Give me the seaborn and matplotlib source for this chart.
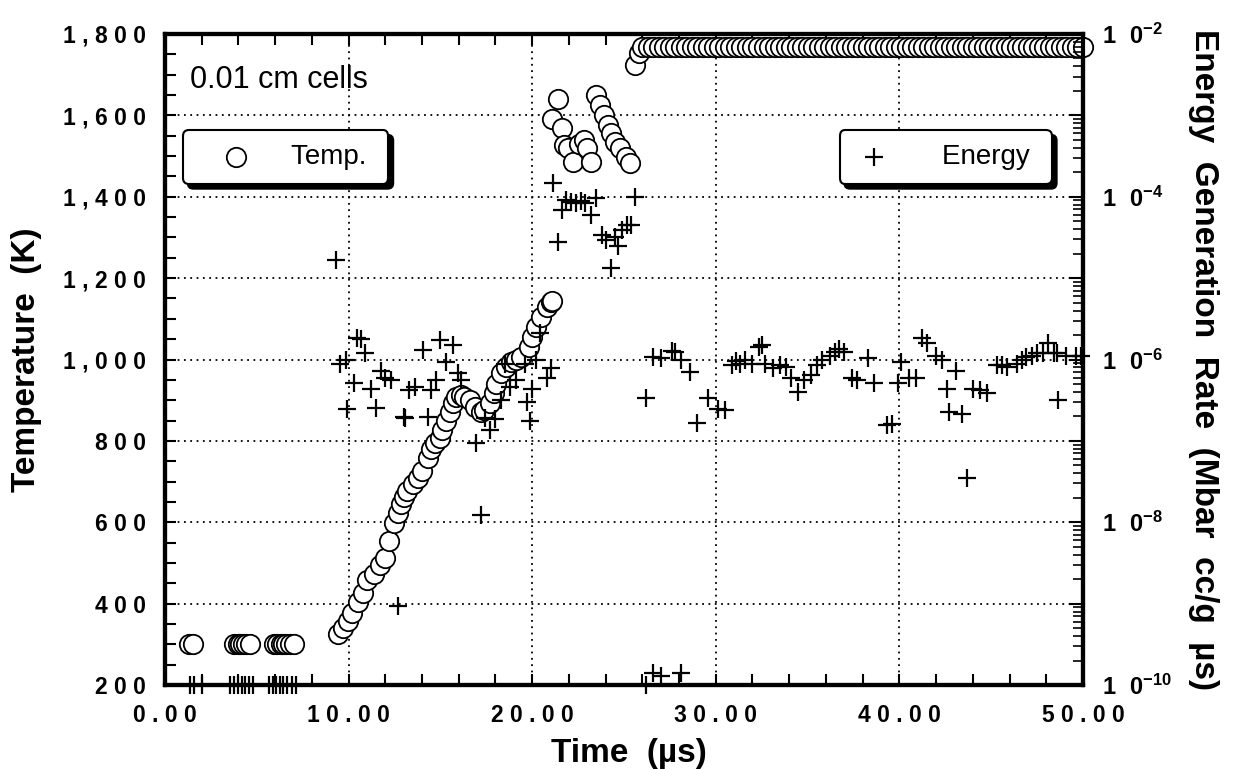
import numpy as np
import pandas as pd
import matplotlib
matplotlib.use("Agg")
import matplotlib.pyplot as plt
import seaborn as sns
from matplotlib.ticker import MultipleLocator, LogLocator, FuncFormatter, NullFormatter, FixedLocator

# ---------------- data ----------------
temp_time = [1.3, 1.5,
             3.75, 3.95, 4.1, 4.25, 4.4, 4.65,
             5.95, 6.1, 6.3, 6.45, 6.6, 6.8, 7.05,
             9.4, 9.7, 9.95, 10.2, 10.5, 10.8, 11.0, 11.4, 11.7, 12.0, 12.2, 12.5,
             12.7, 12.85, 13.0, 13.2, 13.5, 13.8, 14.0, 14.3, 14.5, 14.7, 15.0,
             15.1, 15.3, 15.5, 15.7, 15.85, 16.1, 16.3, 16.6, 16.9, 17.2, 17.4,
             17.7, 17.9, 18.05, 18.3, 18.6, 18.85, 19.1, 19.4, 19.8, 20.0, 20.2,
             20.5, 20.8, 21.0, 21.1,
             21.1, 21.4, 21.6, 21.75, 21.95, 22.2, 22.55, 22.8, 23.0, 23.2,
             23.5, 23.7, 23.9, 24.15, 24.3, 24.5, 24.8, 25.1, 25.35, 25.6, 25.8]
temp_vals = [300, 300,
             300, 300, 300, 300, 300, 300,
             300, 300, 300, 300, 300, 300, 300,
             326, 339, 358, 376, 403, 427, 457, 474, 494, 513, 555, 597,
             622, 646, 661, 678, 695, 710, 727, 759, 781, 794, 806,
             826, 850, 870, 892, 907, 912, 907, 900, 883, 870, 875,
             892, 917, 941, 966, 981, 993, 1000, 1005, 1030, 1055, 1079,
             1104, 1128, 1141, 1145,
             1592, 1640, 1570, 1527, 1519, 1485, 1530, 1539, 1519, 1485,
             1650, 1625, 1601, 1576, 1556, 1534, 1519, 1497, 1483, 1724, 1753]
plateau_time = [26.0, 26.3, 26.6, 26.9, 27.2, 27.5, 27.8, 28.1, 28.4, 28.7,
                29.0, 29.3, 29.6, 29.9, 30.2, 30.5, 30.8, 31.1, 31.4, 31.7,
                32.0, 32.3, 32.6, 32.9, 33.2, 33.5, 33.8, 34.1, 34.4, 34.7,
                35.0, 35.3, 35.6, 35.9, 36.2, 36.5, 36.8, 37.1, 37.4, 37.7,
                38.0, 38.3, 38.6, 38.9, 39.2, 39.5, 39.8, 40.1, 40.4, 40.7,
                41.0, 41.3, 41.6, 41.9, 42.2, 42.5, 42.8, 43.1, 43.4, 43.7,
                44.0, 44.3, 44.6, 44.9, 45.2, 45.5, 45.8, 46.1, 46.4, 46.7,
                47.0, 47.3, 47.6, 47.9, 48.2, 48.5, 48.8, 49.1, 49.4, 49.7, 50.0]
plateau_vals = [1767, 1767, 1767, 1767, 1767, 1767, 1767, 1767, 1767, 1767,
                1767, 1767, 1767, 1767, 1767, 1767, 1767, 1767, 1767, 1767,
                1767, 1767, 1767, 1767, 1767, 1767, 1767, 1767, 1767, 1767,
                1767, 1767, 1767, 1767, 1767, 1767, 1767, 1767, 1767, 1767,
                1767, 1767, 1767, 1767, 1767, 1767, 1767, 1767, 1767, 1767,
                1767, 1767, 1767, 1767, 1767, 1767, 1767, 1767, 1767, 1767,
                1767, 1767, 1767, 1767, 1767, 1767, 1767, 1767, 1767, 1767,
                1767, 1767, 1767, 1767, 1767, 1767, 1767, 1767, 1767, 1767, 1767]

energy_time = [1.37, 1.6, 2.0,
               3.55, 3.77, 3.99, 4.2, 4.37, 4.6, 4.8,
               5.68, 5.9, 6.07, 6.28, 6.45, 6.67, 6.94, 7.16,
               9.3, 9.55, 9.85, 9.9, 10.3, 10.45, 10.65, 10.9, 11.2, 11.5, 11.75,
               12.0, 12.3, 12.7, 13.0, 13.1, 13.3, 13.6, 14.05, 14.3, 14.5, 14.75,
               15.0, 15.3, 15.7, 15.95, 16.1, 16.95, 17.2, 17.45, 17.7, 18.0, 18.3,
               18.5, 18.8, 19.1, 19.6, 19.7, 19.9, 20.0, 20.2, 20.4, 20.8, 21.0,
               21.15, 21.4, 21.6, 21.85, 22.1, 22.4, 22.65, 22.9, 23.2, 23.5, 23.8,
               24.0, 24.3, 24.5, 24.7, 24.9, 25.15, 25.4, 25.6,
               26.2, 26.6, 27.0, 28.1,
               26.2, 26.6, 27.0, 27.6, 27.8, 28.1, 28.6, 29.0, 29.6, 30.1, 30.5,
               30.9, 31.1, 31.3, 31.6, 32.0, 32.35, 32.5, 32.7, 33.1, 33.5, 33.8,
               34.1, 34.5, 34.8, 35.2, 35.5, 35.8, 36.2, 36.5, 36.7, 37.0, 37.4,
               37.7, 38.3, 38.6, 39.3, 39.6, 39.9, 40.1, 40.5, 40.9, 41.25, 41.5,
               42.0, 42.3, 42.6, 42.7, 43.1, 43.4, 43.7, 44.0, 44.4, 44.75, 45.3,
               45.6, 45.85, 46.4, 46.7, 46.9, 47.2, 47.5, 47.8, 48.1, 48.4, 48.6,
               48.65, 49.1, 49.6, 49.9]
energy_vals = [1e-10, 1e-10, 1e-10,
               1e-10, 1e-10, 1e-10, 1e-10, 1e-10, 1e-10, 1e-10,
               1e-10, 1e-10, 1e-10, 1e-10, 1e-10, 1e-10, 1e-10, 1e-10,
               1.66e-5, 8.9e-7, 1.0e-6, 2.5e-7, 5.1e-7, 1.82e-6, 1.78e-6, 1.19e-6, 4.4e-7, 2.57e-7, 7.3e-7,
               6.0e-7, 5.6e-7, 9.4e-10, 1.95e-7, 1.9e-7, 4.2e-7, 4.6e-7, 1.30e-6, 1.95e-7, 4.2e-7, 5.6e-7,
               1.72e-6, 9.2e-7, 1.50e-6, 6.8e-7, 5.6e-7, 9.3e-8, 1.22e-8, 1.9e-7, 1.35e-7, 1.88e-7, 3.2e-7,
               8.9e-7, 4.6e-7, 5.6e-7, 8.9e-7, 3.0e-7, 1.78e-7, 4.4e-7, 9.8e-7, 2.1e-6, 6.0e-7, 7.8e-7,
               1.46e-4, 2.75e-5, 6.8e-5, 9.1e-5, 8.7e-5, 8.3e-5, 8.8e-5, 8.3e-5, 6.0e-5, 9.7e-5, 3.4e-5,
               2.9e-5, 1.32e-5, 3.2e-5, 2.5e-5, 3.9e-5, 4.5e-5, 4.5e-5, 9.9e-5,
               1e-10, 1.41e-10, 1.3e-10, 1.41e-10,
               3.4e-7, 1.06e-6, 1.04e-6, 1.29e-6, 1.23e-6, 9.8e-7, 7.0e-7, 1.68e-7, 3.35e-7, 2.45e-7, 2.37e-7,
               8.5e-7, 9.5e-7, 8.9e-7, 1.0e-6, 8.9e-7, 1.41e-6, 1.5e-6, 8.9e-7, 7.8e-7, 8.5e-7, 8.0e-7,
               6.0e-7, 4.0e-7, 5.6e-7, 6.4e-7, 8.5e-7, 9.8e-7, 1.1e-6, 1.25e-6, 1.36e-6, 1.23e-6, 6.0e-7,
               5.6e-7, 1.04e-6, 5.1e-7, 1.55e-7, 1.6e-7, 5.1e-7, 9.2e-7, 6.0e-7, 6.0e-7, 1.82e-6, 1.6e-6,
               1.12e-6, 1.0e-6, 4.4e-7, 2.24e-7, 7.3e-7, 2.16e-7, 3.5e-8, 4.4e-7, 4.2e-7, 3.85e-7, 8.5e-7,
               8.5e-7, 8.0e-7, 8.9e-7, 9.8e-7, 1.06e-6, 1.1e-6, 1.19e-6, 1.2e-6, 1.58e-6, 1.2e-6, 1.19e-6,
               3.2e-7, 1.12e-6, 1.12e-6, 1.1e-6]

x_ticks = [0, 10, 20, 30, 40, 50]
y_ticks = [200, 400, 600, 800, 1000, 1200, 1400, 1600, 1800]

# ---------------- style ----------------
sns.set_theme(style="white")
plt.rcParams["font.family"] = ["Liberation Sans", "DejaVu Sans"]
plt.rcParams["font.weight"] = "bold"
plt.rcParams["axes.labelweight"] = "bold"
plt.rcParams["text.color"] = "black"
plt.rcParams["axes.labelcolor"] = "black"
plt.rcParams["xtick.color"] = "black"
plt.rcParams["ytick.color"] = "black"
plt.rcParams["axes.edgecolor"] = "black"
plt.rcParams["mathtext.fontset"] = "custom"
plt.rcParams["mathtext.rm"] = "Liberation Sans:bold"
plt.rcParams["mathtext.bf"] = "Liberation Sans:bold"
plt.rcParams["mathtext.it"] = "Liberation Sans:bold"

fig = plt.figure(figsize=(12.34, 7.69), dpi=100)
ax = fig.add_axes([0.1337, 0.1092, 0.7439, 0.8466])

temp_df = pd.DataFrame({"time": temp_time + plateau_time,
                        "temp": temp_vals + plateau_vals})
energy_df = pd.DataFrame({"time": energy_time, "energy": energy_vals})

sns.scatterplot(data=temp_df, x="time", y="temp", marker="o", s=195,
                color="white", edgecolor="black", linewidth=1.3,
                ax=ax, label="Temp. ", clip_on=False, zorder=3)
ax.set_xlim(0, 50)
ax.set_ylim(200, 1800)

ax2 = ax.twinx()
sns.scatterplot(data=energy_df, x="time", y="energy", marker="+", s=175,
                color="black", linewidth=1.6, ax=ax2, label="Energy ",
                clip_on=False, zorder=4)
ax2.set_yscale("log")
ax2.set_ylim(1e-10, 1e-2)
ax2.set_xlim(0, 50)

# ticks / grid
ax.xaxis.set_major_locator(FixedLocator(x_ticks))
ax.xaxis.set_minor_locator(MultipleLocator(2))
ax.yaxis.set_major_locator(FixedLocator(y_ticks))
ax.yaxis.set_minor_locator(MultipleLocator(50))
ax.xaxis.set_major_formatter(FuncFormatter(lambda v, p: " ".join(f"{v:.2f}")))
ax.yaxis.set_major_formatter(FuncFormatter(lambda v, p: " ".join(f"{int(v):,}")))
ax.tick_params(axis="x", which="both", direction="in", top=True, bottom=True,
               length=8, width=1.5, labelsize=16.5, pad=14)
ax.tick_params(axis="y", which="both", direction="in", left=True, right=False,
               length=8, width=1.5, labelsize=16.5, pad=14)
ax.grid(True, which="major", linestyle=(0, (1, 2.5)), color="black", linewidth=1.3)

def exp_fmt(v, p):
    e = int(round(np.log10(v)))
    if e % 2 == 0:
        return rf"$1\ \ 0^{{{e}}}$"
    return ""

ax2.yaxis.set_major_locator(LogLocator(base=10, numticks=20))
ax2.yaxis.set_minor_locator(LogLocator(base=10, subs=np.arange(2, 10), numticks=20))
ax2.yaxis.set_major_formatter(FuncFormatter(exp_fmt))
ax2.yaxis.set_minor_formatter(NullFormatter())
ax2.tick_params(axis="y", which="major", direction="in", length=10, width=1.5,
                labelsize=17, pad=14)
ax2.tick_params(axis="y", which="minor", direction="in", length=7, width=1.2)
ax2.grid(False)

for a in (ax, ax2):
    for s in a.spines.values():
        s.set_linewidth(3)
        s.set_color("black")
        s.set_visible(True)

# labels
ax.set_xlabel("Time  (\u00b5s)", fontsize=24, va="center", ha="center")
ax.xaxis.set_label_coords(0.505, -0.1045)
ax.set_ylabel("Temperature  (K)", fontsize=24, va="center", ha="center")
ax.yaxis.set_label_coords(-0.1514, 0.5)
ax2.set_ylabel("Energy  Generation  Rate  (Mbar  cc/g  \u00b5s)", fontsize=24,
               rotation=270, va="center", ha="center")
ax2.yaxis.set_label_coords(1.1318, 0.5)

ax.text(0.027, 0.929, "0.01 cm cells", transform=ax.transAxes, fontsize=22,
        fontweight="normal", va="center", ha="left")

shadow = {"ox": 3.5, "oy": -3.5, "facecolor": "black", "edgecolor": "black", "alpha": 1}
leg1 = ax.legend(loc="upper left", bbox_to_anchor=(0.0196, 0.8525),
                 frameon=True, fancybox=True, shadow=shadow, framealpha=1,
                 edgecolor="black", prop={"size": 20, "weight": "normal"},
                 borderpad=0.5, handlelength=2.8, handletextpad=0.6,
                 borderaxespad=0, scatterpoints=1)
leg1.get_frame().set_linewidth(1.5)
leg2 = ax2.legend(loc="upper right", bbox_to_anchor=(0.966, 0.8525),
                  frameon=True, fancybox=True, shadow=shadow, framealpha=1,
                  edgecolor="black", prop={"size": 20, "weight": "normal"},
                  borderpad=0.5, handlelength=1.45, handletextpad=1.75,
                  borderaxespad=0, scatterpoints=1)
leg2.get_frame().set_linewidth(1.5)

fig.savefig("out.png", dpi=100)
